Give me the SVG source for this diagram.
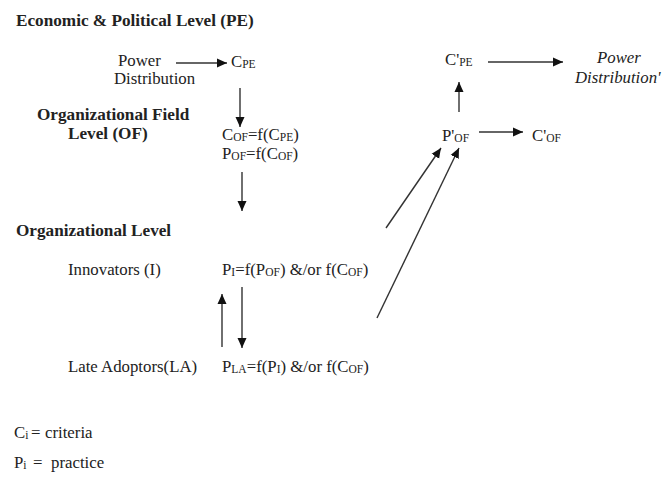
<svg xmlns="http://www.w3.org/2000/svg" width="665" height="481" viewBox="0 0 665 481">
<defs>
<marker id="ah" viewBox="0 0 10 10" refX="10" refY="5" markerWidth="10" markerHeight="10" markerUnits="userSpaceOnUse" orient="auto">
<path d="M0,0.5 L10,5 L0,9.5 z" fill="#111"/>
</marker>
<style>
text{font-family:"Liberation Serif","Times New Roman",serif;fill:#222;font-size:16.8px}
.b{font-weight:bold;font-size:17.2px}
.i{font-style:italic}
.s{font-size:11.5px}
.c line{stroke:#333;stroke-width:1.4;marker-end:url(#ah)}
</style>
</defs>
<rect width="665" height="481" fill="#fff"/>
<g id="levels">
<text class="b" x="16" y="26">Economic &amp; Political Level (PE)</text>
<text class="b" x="37" y="120">Organizational Field</text>
<text class="b" x="68" y="139">Level (OF)</text>
<text class="b" x="16" y="236">Organizational Level</text>
</g>
<g id="power">
<text x="118" y="66">Power</text>
<text x="114" y="84">Distribution</text>
</g>
<g id="cpe"><text x="231" y="67">C<tspan class="s" dy="1">PE</tspan></text></g>
<g id="of">
<text x="222" y="140">C<tspan class="s" dy="1">OF</tspan><tspan dy="-1">=f(C</tspan><tspan class="s" dy="1">PE</tspan><tspan dy="-1">)</tspan></text>
<text x="222" y="159">P<tspan class="s" dy="1">OF</tspan><tspan dy="-1">=f(C</tspan><tspan class="s" dy="1">OF</tspan><tspan dy="-1">)</tspan></text>
</g>
<g id="innovators">
<text x="68" y="275">Innovators (I)</text>
<text x="222" y="275">P<tspan class="s" dy="1">I</tspan><tspan dy="-1">=f(P</tspan><tspan class="s" dy="1">OF</tspan><tspan dy="-1">) &amp;/or f(C</tspan><tspan class="s" dy="1">OF</tspan><tspan dy="-1">)</tspan></text>
</g>
<g id="late">
<text x="68" y="372">Late Adoptors(LA)</text>
<text x="222" y="372">P<tspan class="s" dy="1">LA</tspan><tspan dy="-1">=f(P</tspan><tspan class="s" dy="1">I</tspan><tspan dy="-1">) &amp;/or f(C</tspan><tspan class="s" dy="1">OF</tspan><tspan dy="-1">)</tspan></text>
</g>
<g id="cpe2"><text x="445" y="65">C'<tspan class="s" dy="1">PE</tspan></text></g>
<g id="power2">
<text class="i" x="597" y="63">Power</text>
<text class="i" x="575" y="83">Distribution'</text>
</g>
<g id="pof2"><text x="442" y="141">P'<tspan class="s" dy="1">OF</tspan></text></g>
<g id="cof2"><text x="532" y="141">C'<tspan class="s" dy="1">OF</tspan></text></g>
<g id="legend">
<text x="14" y="438">C<tspan class="s" dy="1">i</tspan><tspan x="31" dy="-1">=</tspan><tspan x="45">criteria</tspan></text>
<text x="14" y="468">P<tspan class="s" dy="1">i</tspan><tspan x="33" dy="-1">=</tspan><tspan x="51">practice</tspan></text>
</g>
<g class="c" id="connectors">
<line x1="176" y1="63" x2="227" y2="63"/>
<line x1="240" y1="88" x2="240" y2="127"/>
<line x1="242" y1="172" x2="242" y2="211"/>
<line x1="222" y1="347" x2="222" y2="294"/>
<line x1="242" y1="287" x2="242" y2="348"/>
<line x1="488" y1="62" x2="563" y2="62"/>
<line x1="459" y1="112" x2="459" y2="82"/>
<line x1="479" y1="132" x2="523" y2="132"/>
<line x1="386" y1="228" x2="441" y2="148"/>
<line x1="377" y1="318" x2="459" y2="148"/>
</g>
</svg>
